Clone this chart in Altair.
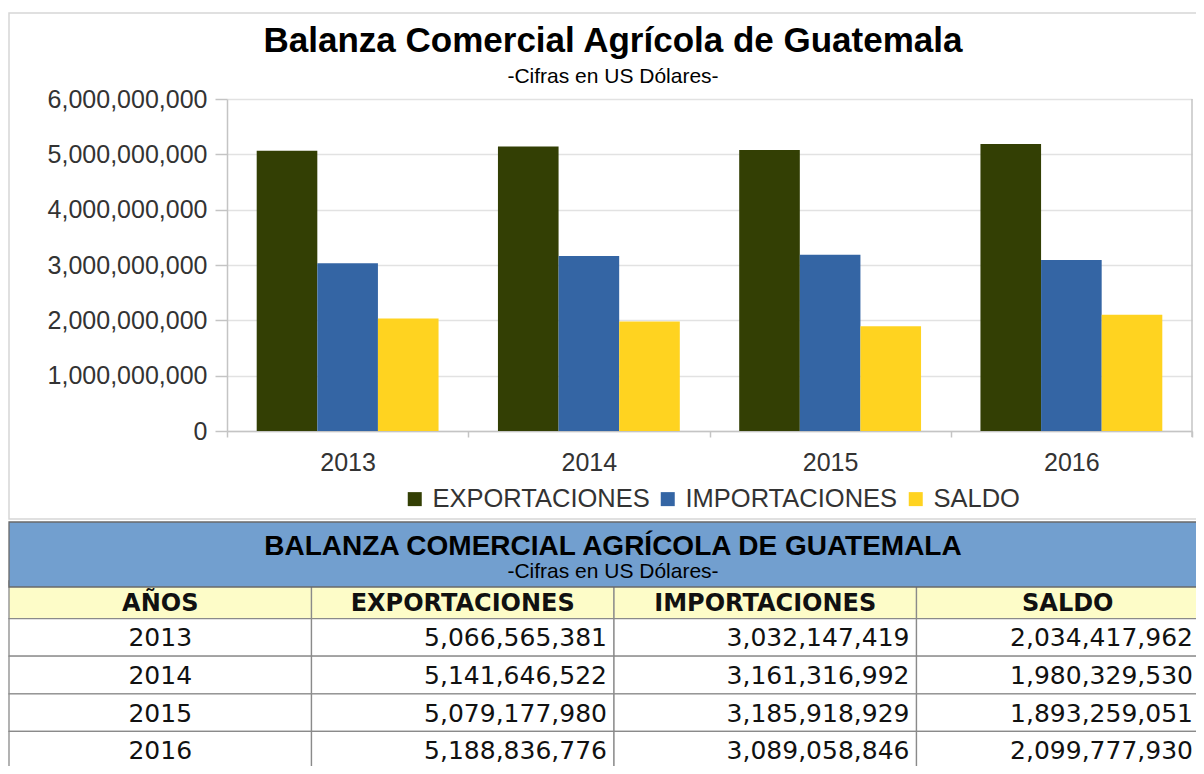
import altair as alt
import pandas as pd

# ---------------- data ----------------
YEARS = ["2013", "2014", "2015", "2016"]
SERIES = ["EXPORTACIONES", "IMPORTACIONES", "SALDO"]
EXPORTACIONES = [5066565381, 5141646522, 5079177980, 5188836776]
IMPORTACIONES = [3032147419, 3161316992, 3185918929, 3089058846]
SALDO = [2034417962, 1980329530, 1893259051, 2099777930]
Y_TICKS = [0, 1000000000, 2000000000, 3000000000, 4000000000, 5000000000, 6000000000]

TITLE = "Balanza Comercial Agrícola de Guatemala"
SUBTITLE = "-Cifras en US Dólares-"
TABLE_TITLE = "BALANZA COMERCIAL AGRÍCOLA DE GUATEMALA"
TABLE_SUBTITLE = "-Cifras en US Dólares-"
TABLE_COLUMNS = ["AÑOS", "EXPORTACIONES", "IMPORTACIONES", "SALDO"]
HEADER_ROW = "HDR"

COLORS = ["#333f04", "#3465a4", "#ffd320"]

# ---------------- tables built from the lists ----------------
values_by_series = {"EXPORTACIONES": EXPORTACIONES, "IMPORTACIONES": IMPORTACIONES, "SALDO": SALDO}
bars_df = pd.DataFrame(
    [{"year": y, "series": s, "value": values_by_series[s][i]}
     for i, y in enumerate(YEARS) for s in SERIES]
)

ROWS = [HEADER_ROW] + YEARS
cells_df = pd.DataFrame(
    [{"row": r, "col": c, "kind": "header" if r == HEADER_ROW else "body"}
     for r in ROWS for c in TABLE_COLUMNS]
)
header_df = pd.DataFrame([{"row": HEADER_ROW, "col": c, "label": c} for c in TABLE_COLUMNS])
year_df = pd.DataFrame([{"row": y, "col": TABLE_COLUMNS[0], "label": y} for y in YEARS])
value_df = pd.DataFrame(
    [{"row": y, "col": s, "label": f"{values_by_series[s][i]:,}"}
     for i, y in enumerate(YEARS) for s in SERIES]
)

one = pd.DataFrame({"k": [0]})

CHART_FONT = "Liberation Sans"
TABLE_FONT = "DejaVu Sans"
GRID = "#e2e2e2"
AXISC = "#c4c4c4"
LABELC = "#333333"

# ---------------- chart frame ----------------
frame = alt.Chart(one).mark_rect(fill="transparent", stroke="#d6d6d6", strokeWidth=1.5).encode(
    x=alt.value(1), x2=alt.value(1211), y=alt.value(5), y2=alt.value(511)
)

# ---------------- bars ----------------
bars = alt.Chart(bars_df).mark_bar().encode(
    x=alt.X(
        "year:N",
        scale=alt.Scale(domain=YEARS, range=[219, 1184], paddingInner=0, paddingOuter=0),
        axis=alt.Axis(
            orient="bottom", offset=-335, title=None, tickBand="extent",
            labelAngle=0, labelFont=CHART_FONT, labelFontSize=25, labelColor=LABELC,
            labelPadding=13, tickSize=6, tickColor=AXISC, tickWidth=1.5,
            domainColor=AXISC, domainWidth=1.5, grid=False,
        ),
    ),
    xOffset=alt.XOffset("series:N", scale=alt.Scale(domain=SERIES, paddingOuter=0.49, paddingInner=0)),
    y=alt.Y(
        "value:Q",
        scale=alt.Scale(domain=[0, 6000000000], range=[423, 91], nice=False),
        axis=alt.Axis(
            orient="left", offset=-219, values=Y_TICKS, format=",d", title=None,
            labelFont=CHART_FONT, labelFontSize=25, labelColor=LABELC, labelPadding=8,
            tickSize=12, tickColor=AXISC, tickWidth=1.5, domainColor=AXISC, domainWidth=1.5,
            grid=True, gridColor=GRID, gridWidth=1.5,
        ),
    ),
    color=alt.Color(
        "series:N",
        scale=alt.Scale(domain=SERIES, range=COLORS),
        legend=alt.Legend(
            orient="none", legendX=394, legendY=478, direction="horizontal", title=None,
            symbolType="square", symbolSize=196, symbolStrokeWidth=0,
            labelFont=CHART_FONT, labelFontSize=25.5, labelColor=LABELC, labelLimit=500,
            labelOffset=5, columnPadding=5,
        ),
    ),
)

right_edge = alt.Chart(one).mark_rule(color=AXISC, strokeWidth=1.5).encode(
    x=alt.value(1184), y=alt.value(91), y2=alt.value(429)
)

title_t = alt.Chart(pd.DataFrame({"t": [TITLE]})).mark_text(
    font=CHART_FONT, fontSize=35, fontWeight="bold", align="center", baseline="alphabetic", color="black"
).encode(x=alt.value(605), y=alt.value(44), text="t:N")

subtitle_t = alt.Chart(pd.DataFrame({"t": [SUBTITLE]})).mark_text(
    font=CHART_FONT, fontSize=21, align="center", baseline="alphabetic", color="black"
).encode(x=alt.value(605), y=alt.value(75), text="t:N")

# ---------------- table ----------------
def tx():
    return alt.Scale(type="band", domain=TABLE_COLUMNS, range=[1, 1211], paddingInner=0, paddingOuter=0)


def ty():
    return alt.Scale(type="band", domain=ROWS, range=[573, 761], paddingInner=0, paddingOuter=0)


cells = alt.Chart(cells_df).mark_rect(stroke="#8a8a8a", strokeWidth=1.3).encode(
    x=alt.X("col:N", scale=tx(), axis=None),
    y=alt.Y("row:N", scale=ty(), axis=None),
    fill=alt.Fill("kind:N", scale=alt.Scale(domain=["header", "body"], range=["#fdfcc8", "#ffffff"]), legend=None),
)

blue_band = alt.Chart(one).mark_rect(fill="#729fcf", stroke="#6a6a6a", strokeWidth=1.3).encode(
    x=alt.value(1), x2=alt.value(1211), y=alt.value(514), y2=alt.value(579)
)

ttitle_t = alt.Chart(pd.DataFrame({"t": [TABLE_TITLE]})).mark_text(
    font=CHART_FONT, fontSize=28, fontWeight="bold", align="center", baseline="alphabetic", color="black"
).encode(x=alt.value(605), y=alt.value(547), text="t:N")

tsub_t = alt.Chart(pd.DataFrame({"t": [TABLE_SUBTITLE]})).mark_text(
    font=CHART_FONT, fontSize=21, align="center", baseline="alphabetic", color="black"
).encode(x=alt.value(605), y=alt.value(570), text="t:N")

header_t = alt.Chart(header_df).mark_text(
    font=TABLE_FONT, fontSize=24, fontWeight="bold", align="center", baseline="middle", dy=4, color="#111111"
).encode(
    x=alt.X("col:N", scale=tx(), axis=None, bandPosition=0.5),
    y=alt.Y("row:N", scale=ty(), axis=None, bandPosition=0.5),
    text="label:N",
)

year_t = alt.Chart(year_df).mark_text(
    font=TABLE_FONT, fontSize=25, align="center", baseline="middle", dy=1, color="#111111"
).encode(
    x=alt.X("col:N", scale=tx(), axis=None, bandPosition=0.5),
    y=alt.Y("row:N", scale=ty(), axis=None, bandPosition=0.5),
    text="label:N",
)

value_t = alt.Chart(value_df).transform_filter(
    alt.datum.col != "SALDO"
).mark_text(
    font=TABLE_FONT, fontSize=25, align="right", baseline="middle", dx=-7, dy=1, color="#111111"
).encode(
    x=alt.X("col:N", scale=tx(), axis=None, bandPosition=1),
    y=alt.Y("row:N", scale=ty(), axis=None, bandPosition=0.5),
    text="label:N",
)

# last column sits at the picture's right edge: keep its numbers fully visible
saldo_t = alt.Chart(value_df).transform_filter(
    alt.datum.col == "SALDO"
).mark_text(
    font=TABLE_FONT, fontSize=25, align="right", baseline="middle", dx=-26, dy=1, color="#111111"
).encode(
    x=alt.X("col:N", scale=tx(), axis=None, bandPosition=1),
    y=alt.Y("row:N", scale=ty(), axis=None, bandPosition=0.5),
    text="label:N",
)

chart = (
    alt.layer(
        frame, bars, right_edge, title_t, subtitle_t,
        cells, blue_band, ttitle_t, tsub_t, header_t, year_t, value_t, saldo_t,
    )
    .resolve_scale(x="independent", y="independent")
    .properties(width=1188, height=758, autosize=alt.AutoSizeParams(type="none"), padding=0,
                background="white")
    .configure_view(strokeWidth=0)
)

chart.save("out.html", embed_options={"renderer": "svg", "actions": False})
